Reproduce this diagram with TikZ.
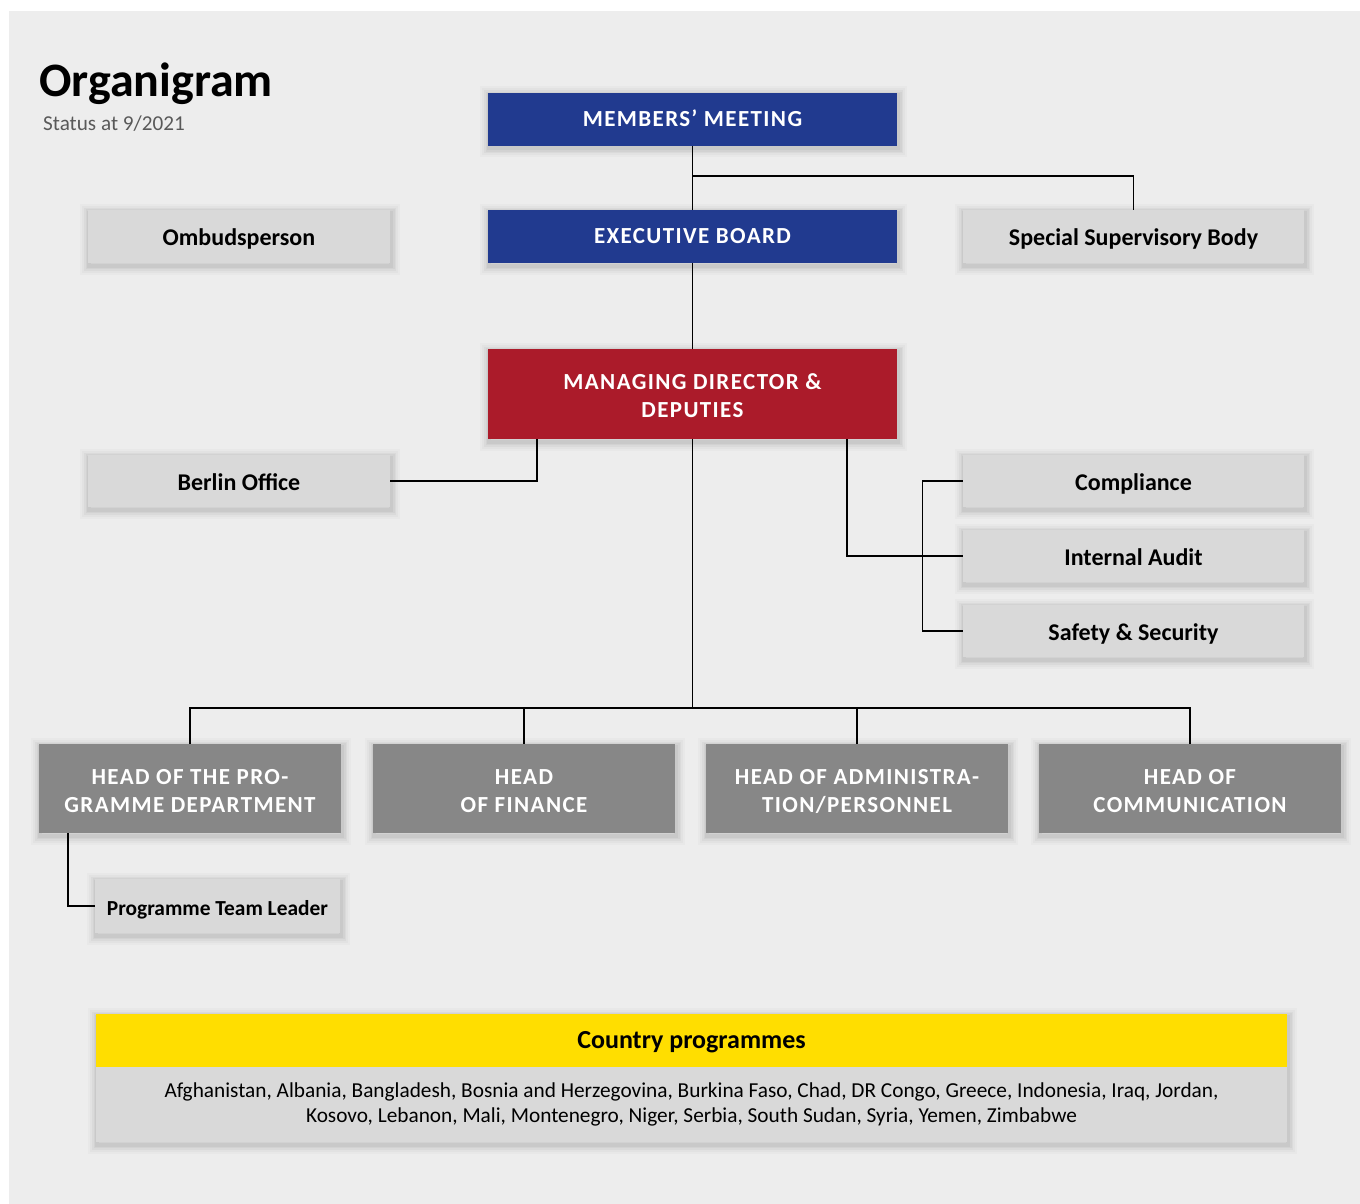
\documentclass[tikz,border=0pt]{standalone}
\usepackage{fontspec}
\setmainfont{Carlito}
\newfontfamily\capsfont[LetterSpace=6]{Carlito}
\usetikzlibrary{calc}
\definecolor{bgc}{HTML}{EDEDED}
\definecolor{blueb}{HTML}{213A8F}
\definecolor{redb}{HTML}{AB1B2A}
\definecolor{lightb}{HTML}{D9D9D9}
\definecolor{headb}{HTML}{878787}
\definecolor{yellowb}{HTML}{FFDE00}
\definecolor{statusc}{HTML}{595959}
\newcommand{\twolines}[2]{\begin{tabular}[t]{@{}c@{}}#1\\#2\end{tabular}}
\tikzset{
  shadowed/.style={
    preaction={draw=black, opacity=0.02, line width=18pt, transform canvas={shift={(1pt,-2.5pt)}}},
    preaction={draw=black, opacity=0.025, line width=14pt, transform canvas={shift={(1pt,-2.5pt)}}},
    preaction={draw=black, opacity=0.03, line width=10pt, transform canvas={shift={(1pt,-2.5pt)}}},
    preaction={draw=black, opacity=0.035, line width=7pt, transform canvas={shift={(1pt,-2.5pt)}}},
    preaction={draw=black, opacity=0.04, line width=4pt, transform canvas={shift={(1pt,-2.5pt)}}}},
  box/.style={shadowed, rectangle, inner sep=0pt},
  capsfnt/.style={font=\capsfont\bfseries\fontsize{23}{28}\selectfont},
  bluebox/.style={box, fill=blueb, text=white, minimum width=409pt, minimum height=53pt, capsfnt,
    text height=14pt, text depth=0pt},
  twoline/.style={text height=19.4pt, text depth=28pt},
  redbox/.style={box, fill=redb, text=white, minimum width=409pt, minimum height=90pt, capsfnt, twoline},
  headbox/.style={box, fill=headb, text=white, minimum width=302pt, minimum height=89pt, capsfnt, twoline},
  lightbox/.style={box, fill=lightb, text=black, minimum height=52pt,
    font=\bfseries\fontsize{24}{28}\selectfont, text height=18pt, text depth=0pt},
  conn/.style={draw=black, line width=1.3pt}
}
\begin{document}
\begin{tikzpicture}[x=1pt, y=-1pt]
\useasboundingbox (0,0) rectangle (1360,1204);
\fill[white] (0,0) rectangle (1360,1204);
\fill[bgc] (9,11) rectangle (1360,1204);

% title
\node[anchor=base west, inner sep=0pt, font=\bfseries\fontsize{48}{52}\selectfont] (title) at (39,97) {Organigram};
\node[anchor=base west, inner sep=0pt, text=statusc, font=\fontsize{21.2}{25}\selectfont] (status) at (43,131) {Status at 9/2021};

% junction coordinates
\coordinate (j1) at (692.5,176);
\coordinate (mdl) at (537,439);
\coordinate (mdr) at (847,439);
\coordinate (bus) at (692.5,708);
\coordinate (h1l) at (68,833);

% boxes
\node[bluebox] (mm) at (692.5,119.5) {MEMBERS’ MEETING};
\node[bluebox] (eb) at (692.5,236.5) {EXECUTIVE BOARD};
\node[lightbox, minimum width=302pt, minimum height=53pt] (omb) at (239,236.5) {Ombudsperson};
\node[lightbox, minimum width=341pt, minimum height=53pt] (ssb) at (1133.5,236.5) {Special Supervisory Body};
\node[redbox] (md) at (692.5,394) {\twolines{MANAGING DIRECTOR \&}{DEPUTIES}};
\node[lightbox, minimum width=302pt] (berlin) at (239,481) {Berlin Office};
\node[lightbox, minimum width=341pt] (comp) at (1133.5,481) {Compliance};
\node[lightbox, minimum width=341pt] (ia) at (1133.5,556) {Internal Audit};
\node[lightbox, minimum width=341pt] (safe) at (1133.5,631) {Safety \& Security};
\node[headbox] (h1) at (190,788.5) {\twolines{HEAD OF THE PRO-}{GRAMME DEPARTMENT}};
\node[headbox] (h2) at (524,788.5) {\twolines{HEAD}{OF FINANCE}};
\node[headbox] (h3) at (857,788.5) {\twolines{HEAD OF ADMINISTRA-}{TION/PERSONNEL}};
\node[headbox] (h4) at (1190,788.5) {\twolines{HEAD OF}{COMMUNICATION}};
\node[lightbox, minimum width=245pt, minimum height=54pt, font=\bfseries\fontsize{21.4}{25}\selectfont,
  text height=18.4pt] (ptl) at (217.5,906) {Programme Team Leader};

% country programmes
\path[shadowed, fill=lightb] (96,1014) rectangle (1287,1142);
\node[rectangle, inner sep=0pt, fill=yellowb, minimum width=1191pt, minimum height=53pt,
  font=\bfseries\fontsize{26}{30}\selectfont, text height=15pt, text depth=0pt] (cph) at (691.5,1040.5) {Country programmes};
\node[rectangle, inner sep=0pt, fill=lightb, minimum width=1191pt, minimum height=75pt, align=center,
  font=\fontsize{21.3}{25}\selectfont] (cpb) at (691.5,1104.5)
  {Afghanistan, Albania, Bangladesh, Bosnia and Herzegovina, Burkina Faso, Chad, DR Congo, Greece, Indonesia, Iraq, Jordan,\\
   Kosovo, Lebanon, Mali, Montenegro, Niger, Serbia, South Sudan, Syria, Yemen, Zimbabwe};

% connectors
\draw[conn] (mm.south) -- (eb.north);
\draw[conn] (j1) -| (ssb.north);
\draw[conn] (eb.south) -- (md.north);
\draw[conn] (mdl) |- (berlin.east);
\draw[conn] (mdr) |- (ia.west);
\draw[conn] (comp.west) -- ++(-40,0) |- (safe.west);
\draw[conn] (md.south) -- (bus);
\draw[conn] (h1.north) |- (bus) -| (h4.north);
\draw[conn] (h2.north) -- (h2.north |- bus);
\draw[conn] (h3.north) -- (h3.north |- bus);
\draw[conn] (h1l) |- (ptl.west);
\end{tikzpicture}
\end{document}
